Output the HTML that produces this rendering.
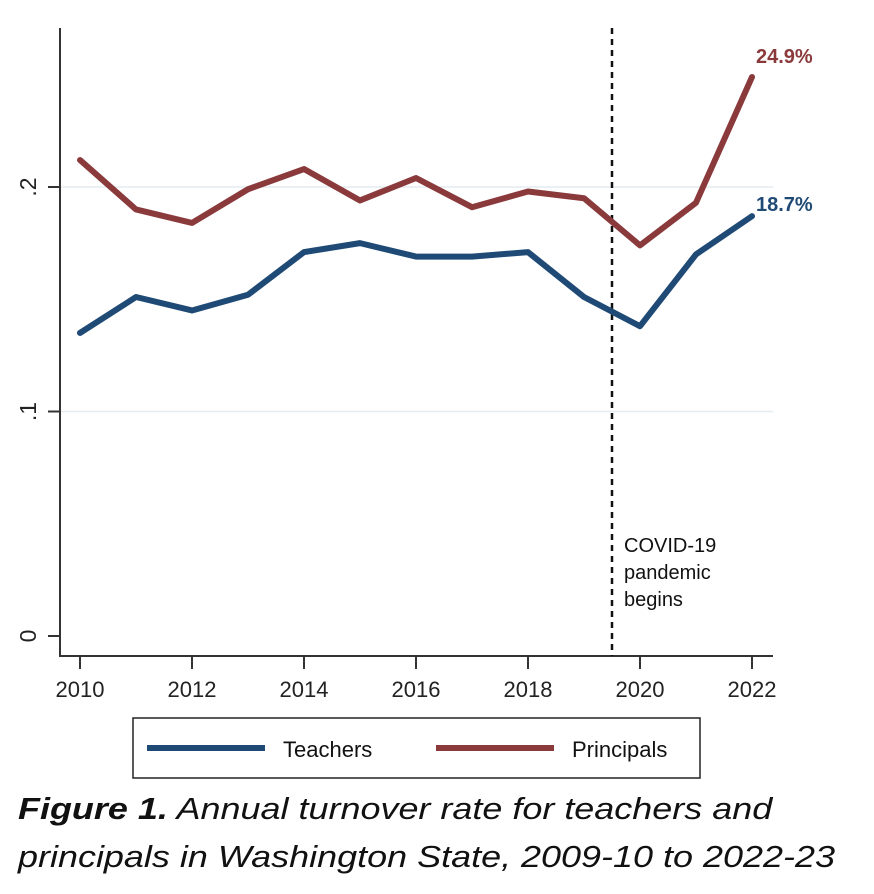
<!DOCTYPE html>
<html><head><meta charset="utf-8"><style>
body{margin:0;background:#fff;width:874px;height:894px;overflow:hidden;font-family:"Liberation Sans",sans-serif}
.cap{position:absolute;left:18px;font-family:"Liberation Sans",sans-serif;font-style:italic;font-size:31px;color:#111;white-space:nowrap;transform:scaleX(1.16);transform-origin:0 0}
</style></head><body>
<svg id="chart" width="874" height="894" style="position:absolute;left:0;top:0">
<g id="grid"></g><g id="axes"></g><g id="marks"></g>
<g>
<rect x="133" y="718" width="567" height="60" fill="#fff" stroke="#222" stroke-width="1.5"/>
<line x1="147" y1="748" x2="265" y2="748" stroke="#1f4a75" stroke-width="6"/>
<text x="283" y="757" font-size="22" fill="#111">Teachers</text>
<line x1="436" y1="748" x2="554" y2="748" stroke="#8b3a3c" stroke-width="6"/>
<text x="572" y="757" font-size="22" fill="#111">Principals</text>
</g>
</svg>
<div class="cap" style="top:791px"><b>Figure 1.</b> Annual turnover rate for teachers and</div>
<div class="cap" style="top:839px">principals in Washington State, 2009-10 to 2022-23</div>
<script>
const years=[2010,2011,2012,2013,2014,2015,2016,2017,2018,2019,2020,2021,2022];
const teachers=[0.135,0.151,0.145,0.152,0.171,0.175,0.169,0.169,0.171,0.151,0.138,0.170,0.187];
const principals=[0.212,0.190,0.184,0.199,0.208,0.194,0.204,0.191,0.198,0.195,0.174,0.193,0.249];
const yTicks=[0,0.1,0.2];
const yTickLabels=["0",".1",".2"];
const xTicks=[2010,2012,2014,2016,2018,2020,2022];
const covidYear=2019.5;
const ns="http://www.w3.org/2000/svg";
const X=v=>80+(v-2010)*56;
const Y=v=>636-v*2245;
function mk(t,a,p){const e=document.createElementNS(ns,t);for(const k in a)e.setAttribute(k,a[k]);p.appendChild(e);return e;}
const grid=document.getElementById('grid'),axes=document.getElementById('axes'),marks=document.getElementById('marks');
yTicks.forEach((v,i)=>{
 if(v>0){const g=mk('line',{x1:60,x2:773,y1:Y(v),y2:Y(v),stroke:'#e3ecef','stroke-width':1.5},grid);
 
 }
 const t=mk('line',{x1:48,x2:60,y1:Y(v),y2:Y(v),stroke:'#333','stroke-width':2},axes);
 
 
 const l=mk('text',{x:0,y:0,'font-size':23,fill:'#222','text-anchor':'middle',transform:`translate(36,${Y(v)}) rotate(-90)`},axes);
 
 
 l.textContent=yTickLabels[i];
});
mk('line',{x1:60,x2:60,y1:28,y2:657,stroke:'#333','stroke-width':2},axes);
mk('line',{x1:59,x2:773,y1:656,y2:656,stroke:'#333','stroke-width':2},axes);
xTicks.forEach(v=>{
 const t=mk('line',{x1:X(v),x2:X(v),y1:656,y2:669,stroke:'#333','stroke-width':2},axes);
 
 
 const l=mk('text',{x:X(v),y:697,'font-size':22,fill:'#222','text-anchor':'middle'},axes);
 
 
 l.textContent=v;
});
const d=mk('line',{x1:X(covidYear),x2:X(covidYear),y1:28,y2:656,stroke:'#111','stroke-width':2.5,'stroke-dasharray':'6,5'},marks);


["COVID-19","pandemic","begins"].forEach((s,i)=>{
 const t=mk('text',{x:X(covidYear)+12,y:552+i*27,'font-size':20,fill:'#111'},marks);
 
 
 t.textContent=s;
});
function series(vals,col,name){
 const p=mk('polyline',{points:vals.map((v,i)=>X(years[i])+','+Y(v)).join(' '),fill:'none',stroke:col,'stroke-width':6,'stroke-linejoin':'round','stroke-linecap':'round'},marks);
 
 
 const last=vals[vals.length-1];
 const t=mk('text',{x:X(years[years.length-1])+4,y:Y(last)-(name==='principals'?14:5),'font-size':20,'font-weight':'bold',fill:col},marks);
 
 
 t.textContent=(last*100).toFixed(1)+'%';
}
series(principals,'#8b3a3c','principals');
series(teachers,'#1f4a75','teachers');
</script>
</body></html>
